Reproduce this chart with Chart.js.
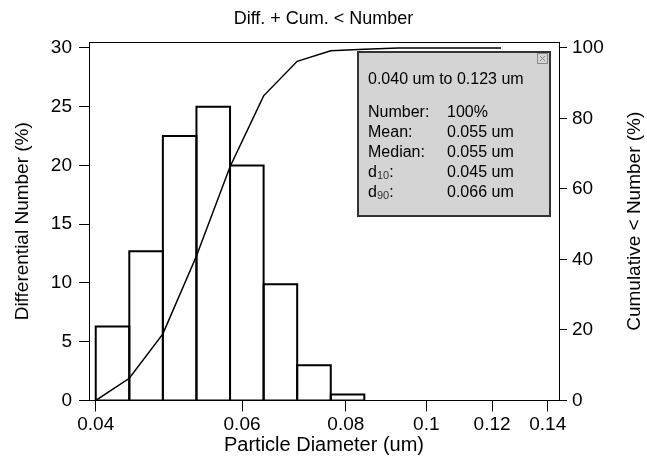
<!DOCTYPE html>
<html>
<head>
<meta charset="utf-8">
<script src="https://cdn.jsdelivr.net/npm/chart.js@4/dist/chart.umd.min.js"></script>
<style>
  html, body { margin: 0; padding: 0; background: #fff; }
</style>
</head>
<body>
<canvas id="psd-chart" width="647" height="457"></canvas>
<script>
// histogram bins (um) and differential number (%)
const binEdges = [0.04, 0.0439, 0.04818, 0.05288, 0.05804, 0.0637, 0.06991, 0.07673, 0.08421];
const diffNumber = [6.3, 12.7, 22.5, 25.0, 20.0, 9.9, 3.0, 0.5];

// cumulative < number (%)
const cumDiameter = [0.04, 0.0439, 0.04818, 0.05288, 0.05804, 0.0637, 0.06991, 0.07673, 0.08421, 0.0925, 0.123];
const cumNumber = [0, 6.3, 18.9, 41.0, 66.3, 86.4, 96.2, 99.2, 99.6, 100, 100];

const xTicks = [0.04, 0.06, 0.08, 0.1, 0.12, 0.14];
const xTickLabels = ['0.04', '0.06', '0.08', '0.1', '0.12', '0.14'];
const yTicks = [0, 5, 10, 15, 20, 25, 30];
const y2Ticks = [0, 20, 40, 60, 80, 100];

const infoTitle = '0.040 um to 0.123 um';
const statLabels = ['Number:', 'Mean:', 'Median:', 'd10:', 'd90:'];
const statValues = ['100%', '0.055 um', '0.055 um', '0.045 um', '0.066 um'];

const y2Title = 'Cumulative < Number (%)';

const FONT = 'Liberation Sans, Arial, sans-serif';

let datasets = [];
datasets.push({
    data: cumDiameter.map((d, i) => ({x: d, y: cumNumber[i]})),
    yAxisID: 'y2',
    borderColor: '#000',
    borderWidth: 1.5,
    pointRadius: 0,
    tension: 0,
    fill: false,
    order: 1
});
for (let i = 0; i < diffNumber.length; i++) {
    datasets.push({
        data: [
            {x: binEdges[i], y: 0}, {x: binEdges[i], y: diffNumber[i]},
            {x: binEdges[i + 1], y: diffNumber[i]}, {x: binEdges[i + 1], y: 0},
            {x: binEdges[i], y: 0}
        ],
        yAxisID: 'y',
        borderColor: '#000',
        borderWidth: 2,
        pointRadius: 0,
        tension: 0,
        fill: false,
        order: 2
    });
}

// top frame line, right axis title (reads upwards) and the gray stats box
const boxPlugin = {
    id: 'statsBox',
    beforeDatasetsDraw(chart) {
        const a = chart.chartArea, ctx = chart.ctx;
        ctx.save();
        ctx.strokeStyle = '#000';
        ctx.lineWidth = 1;
        ctx.beginPath();
        ctx.moveTo(a.left, a.top + 0.5);
        ctx.lineTo(a.right, a.top + 0.5);
        ctx.stroke();
        ctx.restore();
    },
    afterDraw(chart) {
        const a = chart.chartArea, ctx = chart.ctx;
        ctx.save();
        ctx.translate(chart.width - 12, (a.top + a.bottom) / 2);
        ctx.rotate(-Math.PI / 2);
        ctx.fillStyle = '#000';
        ctx.font = '19px ' + FONT;
        ctx.textAlign = 'center';
        ctx.textBaseline = 'middle';
        ctx.fillText(y2Title, 0, 0);
        ctx.restore();

        const bx = a.right - 201, by = a.top + 10, bw = 192, bh = 164;
        ctx.save();
        ctx.fillStyle = '#d4d4d4';
        ctx.fillRect(bx, by, bw, bh);
        ctx.strokeStyle = '#333';
        ctx.lineWidth = 2;
        ctx.strokeRect(bx, by, bw, bh);
        // close box
        ctx.lineWidth = 1;
        ctx.strokeStyle = '#888';
        ctx.strokeRect(bx + bw - 12.5, by + 1.5, 10, 10);
        ctx.beginPath();
        ctx.moveTo(bx + bw - 10, by + 4); ctx.lineTo(bx + bw - 5, by + 9);
        ctx.moveTo(bx + bw - 5, by + 4); ctx.lineTo(bx + bw - 10, by + 9);
        ctx.stroke();

        ctx.fillStyle = '#000';
        ctx.textBaseline = 'middle';
        ctx.textAlign = 'left';
        ctx.font = '16px ' + FONT;
        ctx.fillText(infoTitle, bx + 10, by + 28);
        for (let i = 0; i < statLabels.length; i++) {
            const y = by + 61 + i * 20;
            const lab = statLabels[i];
            const m = lab.match(/^d(\d+):$/);
            if (m) {
                ctx.font = '16px ' + FONT;
                ctx.fillText('d', bx + 10, y);
                let w = ctx.measureText('d').width;
                ctx.font = '11px ' + FONT;
                ctx.fillStyle = '#333';
                ctx.fillText(m[1], bx + 10 + w, y + 3);
                w += ctx.measureText(m[1]).width;
                ctx.fillStyle = '#000';
                ctx.font = '16px ' + FONT;
                ctx.fillText(':', bx + 10 + w, y);
            } else {
                ctx.font = '16px ' + FONT;
                ctx.fillText(lab, bx + 10, y);
            }
            ctx.font = '16px ' + FONT;
            ctx.fillText(statValues[i], bx + 89, y);
        }
        ctx.restore();
    }
};

new Chart(document.getElementById('psd-chart'), {
    type: 'line',
    data: { datasets: datasets },
    plugins: [boxPlugin],
    options: {
        responsive: false,
        animation: false,
        layout: { padding: 0 },
        plugins: {
            legend: { display: false },
            tooltip: { enabled: false },
            title: {
                display: true,
                text: 'Diff. + Cum. < Number',
                color: '#000',
                font: { family: FONT, size: 18, weight: 'normal' },
                padding: { top: 8, bottom: 12.4 }
            }
        },
        scales: {
            x: {
                type: 'logarithmic',
                min: 0.03926,
                max: 0.14445,
                afterBuildTicks: (s) => { s.ticks = xTicks.map(v => ({value: v})); },
                afterFit: (s) => { s.height = 56.5; },
                ticks: {
                    autoSkip: false, maxRotation: 0, padding: 2, color: '#000',
                    font: { family: FONT, size: 19 },
                    callback: (v, i) => xTickLabels[i]
                },
                grid: { drawOnChartArea: false, drawTicks: true, tickLength: 11, color: '#000' },
                border: { display: true, color: '#000', width: 1 },
                title: {
                    display: true, text: 'Particle Diameter (um)', color: '#000',
                    font: { family: FONT, size: 20 }, padding: { top: 0, bottom: 0 }
                }
            },
            y: {
                position: 'left',
                min: 0,
                max: 30.5,
                afterBuildTicks: (s) => { s.ticks = yTicks.map(v => ({value: v})); },
                afterFit: (s) => { s.width = 89; },
                ticks: { padding: 7, color: '#000', font: { family: FONT, size: 19 } },
                grid: { drawOnChartArea: false, drawTicks: true, tickLength: 10, color: '#000' },
                border: { display: true, color: '#000', width: 1 },
                title: {
                    display: true, text: 'Differential Number (%)', color: '#000',
                    font: { family: FONT, size: 19 }, padding: { top: 11, bottom: 0 }
                }
            },
            y2: {
                position: 'right',
                min: 0,
                max: 101.67,
                afterBuildTicks: (s) => { s.ticks = y2Ticks.map(v => ({value: v})); },
                afterFit: (s) => { s.width = 88; },
                ticks: { padding: 5, color: '#000', font: { family: FONT, size: 19 } },
                grid: { drawOnChartArea: false, drawTicks: true, tickLength: 8, color: '#000' },
                border: { display: true, color: '#000', width: 1 },
                title: { display: false }
            }
        }
    }
});
</script>
</body>
</html>
